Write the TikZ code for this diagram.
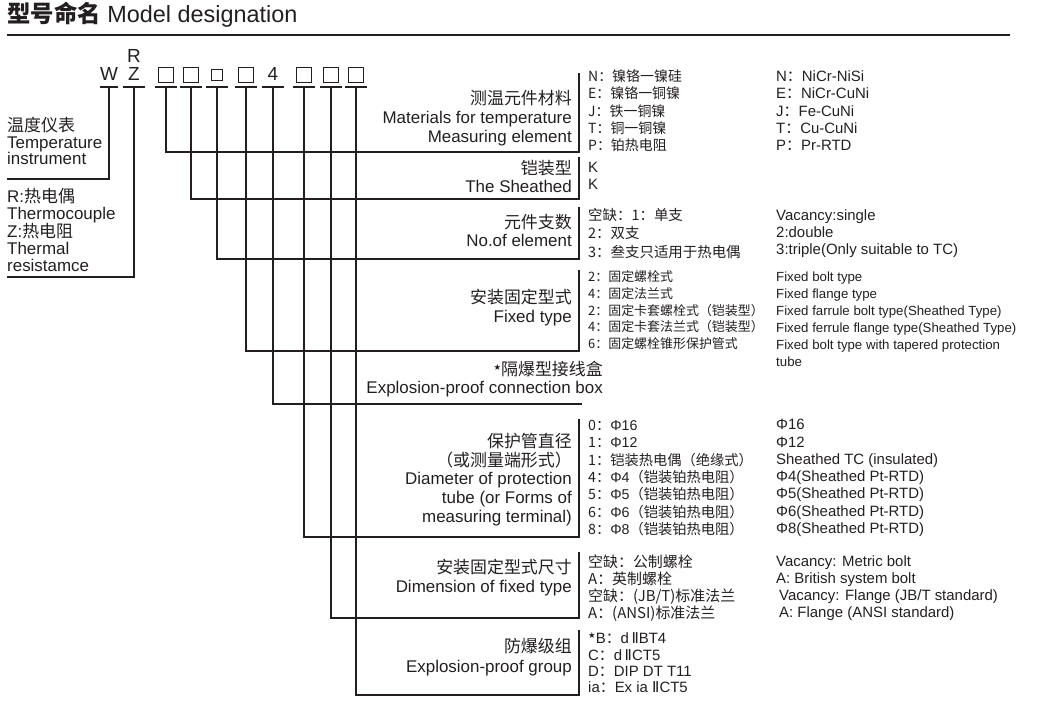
\documentclass[tikz,border=0pt]{standalone}
\usepackage{fontspec}
\setmainfont{Liberation Sans}
\newfontfamily\cjk{Noto Sans CJK SC}
\newfontfamily\symf{DejaVu Sans}
\definecolor{ink}{HTML}{231F20}
\newcommand\fs[2]{\fontsize{#1}{#2}\selectfont\lineskiplimit=-20pt\relax}
\newcommand\smstar{\raisebox{5bp}{\symf\fontsize{8.5}{8.5}\selectfont ★}}
\newcommand\rmtwo{{\symf Ⅱ}}
\tikzset{
  lbl/.style={anchor=east,align=right,inner sep=0pt,text=ink},
  opt/.style={anchor=west,align=left,inner sep=0pt,text=ink},
  code/.style={anchor=base,inner sep=0pt,text=ink,font=\fs{19}{19}},
  slot/.style={draw=ink,line width=1bp,minimum size=14.5bp,inner sep=0pt,yshift=12bp},
  wire/.style={draw=ink,line width=1.1bp}
}
\begin{document}
\begin{tikzpicture}[x=1bp,y=-1bp]
\useasboundingbox (0,0) rectangle (1043,702);
\node[opt,anchor=base west,font=\fs{23.5}{26}] (title) at (7,23) {{\cjk\bfseries 型号命名} Model designation};
\coordinate (r0) at (7,35);
\coordinate (r1) at (1010,35);
\draw[wire] (r0) -- (r1);
\foreach \x [count=\i] in {109,134,166,191,217,246,273,304,331,356}
  \coordinate (u\i) at (\x,87);
\node[code,yshift=6bp] (cW) at (u1) {W};
\node[code,yshift=24.5bp] (cR) at (u2) {R};
\node[code,yshift=6bp] (cZ) at (u2) {Z};
\node[code,yshift=6bp] (c4) at (u7) {4};
\foreach \i in {3,4,6,8,9,10}
  \node[slot] (b\i) at (u\i) {};
\node[slot,minimum size=10.5bp] (b5) at (u5) {};
\draw[wire] ([xshift=-9bp]u1) -- ([xshift=9bp]u1);
\foreach \i in {2,...,10}
  \draw[wire] ([xshift=-11bp]u\i) -- ([xshift=11bp]u\i);
\coordinate (e1) at (7,179);
\coordinate (e2) at (7,277);
\draw[wire] (u1) |- (e1);
\draw[wire] (u2) |- (e2);
\foreach \i/\yb/\yt in {3/152/73,4/199/157,5/259/207,6/351/270,8/537/419,9/618/552,10/695/630}{
  \coordinate (e\i) at (579,\yb);
  \coordinate (t\i) at (579,\yt);
  \draw[wire] (u\i) |- (e\i) -- (t\i);
}
\coordinate (e7) at (582,404);
\draw[wire] (u7) |- (e7);

\node[opt,font=\fs{17}{16.5}] (l1) at (7,141) {{\cjk 温度仪表}\\Temperature\\instrument};
\node[opt,font=\fs{17}{17.5}] (l2) at (7,230) {R:{\cjk 热电偶}\\Thermocouple\\Z:{\cjk 热电阻}\\Thermal\\resistamce};

\node[lbl,font=\fs{17}{19}] (g3) at (572,118) {{\cjk 测温元件材料}\\Materials for temperature\\Measuring element};
\node[lbl,font=\fs{17}{19}] (g4) at (572,176.5) {{\cjk 铠装型}\\The Sheathed};
\node[lbl,font=\fs{17}{17.5}] (g5) at (572,230.5) {{\cjk 元件支数}\\No.of element};
\node[lbl,font=\fs{17}{19}] (g6) at (572,307.5) {{\cjk 安装固定型式}\\Fixed type};
\node[lbl,font=\fs{17}{18}] (g7) at (603,379) {\smstar{\cjk 隔爆型接线盒}\\Explosion-proof connection box};
\node[lbl,font=\fs{17}{18.75}] (g8) at (572,479.5) {{\cjk 保护管直径}\\{\cjk （或测量端形式）}\\Diameter of protection\\tube (or Forms of\\measuring terminal)};
\node[lbl,font=\fs{17}{19}] (g9) at (572,577.5) {{\cjk 安装固定型式尺寸}\\Dimension of fixed type};
\node[lbl,font=\fs{17}{20}] (g10) at (572,657) {{\cjk 防爆级组}\\Explosion-proof group};

\node[opt,font=\fs{14}{17.3}] (o3) at (588,110.8) {{\cjk N：镍铬一镍硅}\\{\cjk E：镍铬一铜镍}\\{\cjk J：铁一铜镍}\\{\cjk T：铜一铜镍}\\{\cjk P：铂热电阻}};
\node[opt,font=\fs{15}{17.3}] (n3) at (776,110.8) {N{\cjk ：}NiCr-NiSi\\E{\cjk ：}NiCr-CuNi\\J{\cjk ：}Fe-CuNi\\T{\cjk ：}Cu-CuNi\\P{\cjk ：}Pr-RTD};
\node[opt,font=\fs{15}{17}] (o4) at (588,175.5) {K\\K};
\node[opt,font=\fs{14.5}{18.5}] (o5) at (588,233.3) {{\cjk 空缺：1：单支}\\{\cjk 2：双支}\\{\cjk 3：叁支只适用于热电偶}};
\node[opt,font=\fs{15}{17.5}] (n5) at (776,233.7) {Vacancy:single\\2:double\\3:triple(Only suitable to TC)};
\node[opt,font=\fs{13}{16.75}] (o6) at (588,310.2) {{\cjk 2：固定螺栓式}\\{\cjk 4：固定法兰式}\\{\cjk 2：固定卡套螺栓式（铠装型）}\\{\cjk 4：固定卡套法兰式（铠装型）}\\{\cjk 6：固定螺栓锥形保护管式}};
\node[opt,font=\fs{13.3}{17}] (n6) at (776,319.5) {Fixed bolt type\\Fixed flange type\\Fixed farrule bolt type(Sheathed Type)\\Fixed ferrule flange type(Sheathed Type)\\Fixed bolt type with tapered protection\\tube};
\node[opt,font=\fs{14.3}{17.33}] (o8) at (588,478) {{\cjk 0：}Φ16\\{\cjk 1：}Φ12\\{\cjk 1：铠装热电偶（绝缘式）}\\{\cjk 4：}Φ4{\cjk （铠装铂热电阻）}\\{\cjk 5：}Φ5{\cjk （铠装铂热电阻）}\\{\cjk 6：}Φ6{\cjk （铠装铂热电阻）}\\{\cjk 8：}Φ8{\cjk （铠装铂热电阻）}};
\node[opt,font=\fs{15}{17.33}] (n8) at (776,478) {Φ16\\Φ12\\Sheathed TC (insulated)\\Φ4(Sheathed Pt-RTD)\\Φ5(Sheathed Pt-RTD)\\Φ6(Sheathed Pt-RTD)\\Φ8(Sheathed Pt-RTD)};
\node[opt,font=\fs{15}{17}] (o9) at (588,588.5) {{\cjk 空缺：公制螺栓}\\{\cjk A：英制螺栓}\\{\cjk 空缺：(JB/T)标准法兰}\\{\cjk A：(ANSI)标准法兰}};
\node[opt,font=\fs{15}{17}] (n9) at (776,588.5) {Vacancy: Metric bolt\\A: British system bolt\\\hspace{3bp}Vacancy: Flange (JB/T standard)\\\hspace{3bp}A: Flange (ANSI standard)};
\node[opt,font=\fs{15}{16.3}] (o10) at (588,662.7) {\smstar B{\cjk ：}d\,\rmtwo BT4\\C{\cjk ：}d\,\rmtwo CT5\\D{\cjk ：}DIP DT T11\\ia{\cjk ：}Ex ia \rmtwo CT5};
\end{tikzpicture}
\end{document}
